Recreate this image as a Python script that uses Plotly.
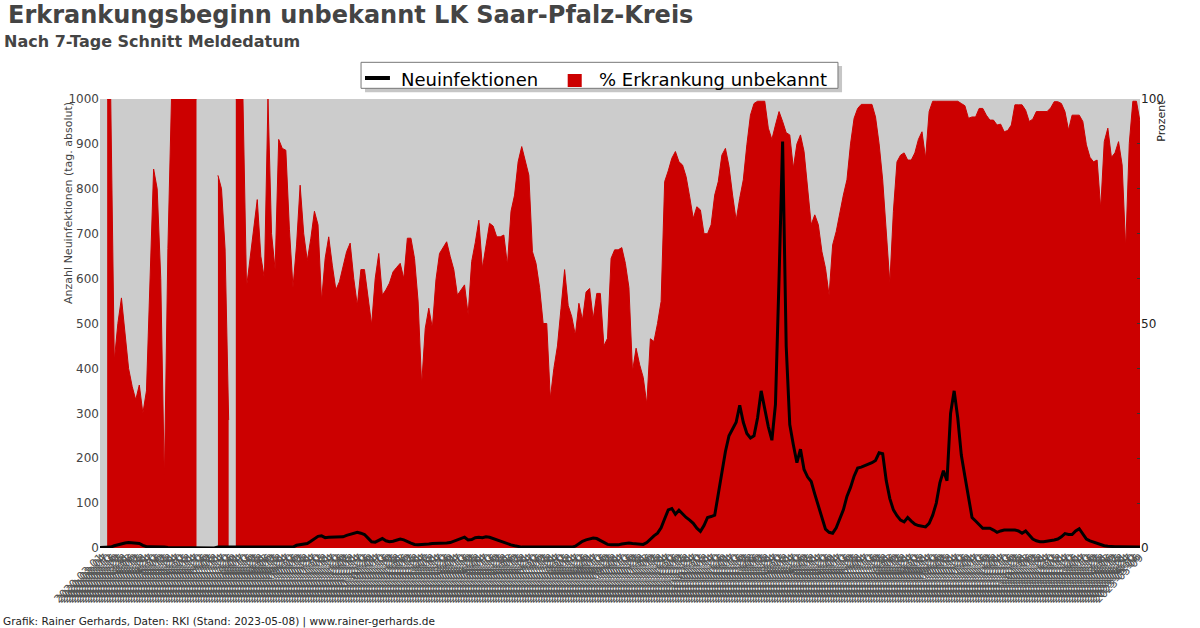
import pandas as pd
import plotly.graph_objects as go

# ---------------- data (4-day sampling) ----------------
START_DATE = "2020-03-01"
STEP = "4D"

# % Erkrankung unbekannt (right axis); None = no data
pct_unbekannt = [
    None, None, 100, 100, 41.7, 50, 55.7, 48, 40, 36,
    33, 36.3, 30, 35, 61.5, 84.4, 80, 60, 15, 66.7,
    100, 100, 100, 100, 100, 100, 100, 100, None, None,
    None, None, None, 83, 80, 66.6, 28.5, None, 100, 100,
    100, 58, 65, 70.8, 77.6, 65, 60, 100, 70, 62,
    91, 89, 88.6, 71, 58, 67.5, 80.8, 70, 64, 69,
    75, 72, 55, 64.5, 69.3, 63, 57.5, 59.3, 63, 66,
    67.9, 60, 54, 62, 62, 56.3, 49.7, 60, 65.6, 56.3,
    57.5, 59, 61.5, 62.5, 63.4, 60, 69, 69, 64.5, 55,
    36.3, 48.9, 53.4, 49, 59.7, 65.6, 67, 68.2, 64.9, 62,
    56.3, 57.5, 58.6, 52, 63.8, 68, 73, 62.3, 67.1, 72.3,
    71.7, 69.3, 69.3, 69.7, 63, 75, 78.6, 86, 89.4, 86,
    83, 66, 63.4, 58, 50, 50, 33.3, 40, 45, 53.4,
    62, 54, 51.5, 47.4, 54.5, 50.8, 57, 57.8, 51, 56.7,
    56.7, 45, 46.7, 64.5, 66.4, 66.4, 66.9, 63.4, 58, 39.3,
    44.5, 40.8, 38, 32, 46.6, 46, 50, 54.9, 81.6, 84,
    86.8, 88.3, 86, 85.3, 82.7, 78.2, 73.4, 76, 75.3, 70,
    70, 72, 78.6, 81.6, 87.5, 89, 85, 78.6, 73, 77.9,
    82, 89.8, 96.4, 99, 99.5, 99.5, 99.5, 93.5, 91, 94.2,
    97.2, 95, 92.5, 92, 84.6, 90, 92, 88.3, 80.1, 72,
    74.2, 72, 66, 62.3, 56.3, 67.5, 70.5, 74.9, 78.6, 82,
    90, 95.7, 97.9, 98.8, 98.8, 98.8, 98.8, 96, 90, 82,
    70, 59, 75, 86, 87.5, 88, 86.4, 86.4, 88, 91,
    92.7, 86.8, 97.2, 99.5, 99.5, 99.5, 99.5, 99.5, 99.5, 99.5,
    99.5, 99, 98.5, 95.7, 96, 96, 97.9, 97.9, 96.4, 95.3,
    95.3, 94.2, 94.4, 92.7, 93, 94.2, 98.7, 98.7, 98.7, 97.5,
    95, 95.5, 97.2, 97.2, 97.2, 97.2, 98, 99.4, 99.4, 99,
    97.2, 93.1, 96.4, 96.4, 96.4, 95, 89.8, 87, 86, 86.4,
    75.6, 90.5, 93.5, 87, 88, 90.5, 85.3, 66.7, 90.1, 99.5,
    99.5, 95,
]

# Neuinfektionen, 7-Tage Schnitt (left axis)
neuinfektionen = [
    1, 1, 1, 2, 5, 7, 10, 11, 12, 11,
    11, 10, 6, 3, 3, 3, 3, 3, 2, 1,
    1, 1, 1, 1, 1, 1, 1, 1, 0, 0,
    0, 0, 0, 2, 2, 2, 2, 2, 1, 1,
    1, 2, 2, 2, 2, 2, 2, 2, 2, 2,
    2, 2, 2, 2, 2, 6, 7, 9, 10, 15,
    20, 26, 27, 23, 24, 24, 24, 25, 25, 28,
    30, 33, 35, 33, 30, 22, 14, 13, 17, 21,
    16, 14, 15, 17, 20, 18, 14, 11, 8, 7,
    8, 8, 9, 10, 10, 10, 10, 11, 12, 15,
    17, 21, 24, 18, 19, 23, 24, 23, 25, 24,
    21, 18, 15, 12, 10, 7, 5, 3, 2, 2,
    2, 2, 2, 2, 2, 2, 2, 2, 2, 2,
    2, 2, 2, 4, 10, 15, 18, 20, 22, 21,
    17, 12, 8, 7, 7, 7, 9, 10, 11, 10,
    9, 9, 8, 12, 20, 27, 33, 45, 65, 85,
    88, 75, 84, 75, 68, 62, 55, 44, 37, 50,
    68, 70, 73, 120, 170, 215, 250, 265, 280, 318,
    280, 255, 245, 250, 290, 350, 310, 270, 240, 320,
    600, 905, 450, 275, 230, 190, 220, 175, 158, 148,
    120, 95, 70, 42, 35, 33, 45, 65, 85, 115,
    135, 160, 178, 180, 183, 187, 190, 195, 212, 210,
    150, 110, 85, 72, 62, 58, 68, 60, 53, 50,
    48, 47, 55, 73, 100, 145, 172, 150, 300, 350,
    290, 207, 160, 110, 68, 60, 52, 44, 44, 44,
    40, 35, 38, 40, 40, 40, 40, 38, 33, 38,
    30, 20, 16, 14, 14, 15, 16, 18, 20, 25,
    32, 30, 30, 38, 43, 30, 20, 16, 13, 10,
    7, 5, 4, 3, 3, 3, 3, 3, 2, 2,
    2, 2,
]

dates = pd.date_range(START_DATE, periods=len(pct_unbekannt), freq=STEP)

left_ticks = list(range(0, 1001, 100))
right_tickvals = list(range(0, 101, 10))
right_ticktext = ["0", "", "", "", "", "50", "", "", "", "", "100"]

NAME_LINE = "Neuinfektionen"
NAME_AREA = "% Erkrankung unbekannt"

RED = "#cc0000"
GREY_TXT = "#444444"
FONT = "DejaVu Sans"

fig = go.Figure()

# black line on overlay axis (drawn on top of the red area)
fig.add_trace(go.Scatter(
    x=dates, y=neuinfektionen, name=NAME_LINE, yaxis="y2",
    mode="lines", line=dict(color="black", width=3), showlegend=False,
))

# red area, split into contiguous runs so that missing days stay grey
segments, cur = [], []
for d, v in zip(dates, pct_unbekannt):
    if v is None:
        if cur:
            segments.append(cur)
        cur = []
    else:
        cur.append((d, v))
if cur:
    segments.append(cur)

for seg in segments:
    fig.add_trace(go.Scatter(
        x=[p[0] for p in seg], y=[p[1] for p in seg], yaxis="y",
        name=NAME_AREA, mode="lines",
        line=dict(color=RED, width=1), fill="tozeroy", fillcolor=RED,
        showlegend=False, hoverinfo="skip",
    ))

# legend box drawn as layout decoration (paper coordinates)
legend_shapes = [
    dict(type="rect", xref="paper", yref="paper", layer="above",
         x0=0.2548, x1=0.7135, y0=1.0150, y1=1.0735,
         fillcolor="#c6c6c6", line=dict(width=0)),
    dict(type="rect", xref="paper", yref="paper", layer="above",
         x0=0.2510, x1=0.7096, y0=1.0238, y1=1.0817,
         fillcolor="white", line=dict(color="#777777", width=1)),
    dict(type="line", xref="paper", yref="paper", layer="above",
         x0=0.2548, x1=0.2788, y0=1.0468, y1=1.0468,
         line=dict(color="black", width=4)),
    dict(type="rect", xref="paper", yref="paper", layer="above",
         x0=0.4497, x1=0.4632, y0=1.0267, y1=1.0557,
         fillcolor=RED, line=dict(width=0)),
]

fig.update_layout(
    width=1200, height=628,
    margin=dict(l=100, r=60, t=99, b=80, autoexpand=False),
    paper_bgcolor="white", plot_bgcolor="#cccccc",
    font=dict(family=FONT, color=GREY_TXT),
    showlegend=False,
    xaxis=dict(
        type="date", range=[dates[0], dates[-1]], automargin=False,
        tick0=START_DATE, dtick=3 * 86400000, tickformat="%Y-%m-%d",
        tickangle=-45, tickfont=dict(size=11, color="#555555"),
        showgrid=False, zeroline=False, showline=False, ticks="",
    ),
    yaxis=dict(
        side="right", range=[0, 100], tickvals=right_tickvals,
        ticktext=right_ticktext, ticks="inside", ticklen=3, automargin=False,
        tickcolor="#333333", showgrid=False, zeroline=False,
        tickfont=dict(size=12, color="#222222"),
    ),
    yaxis2=dict(
        overlaying="y", side="left", range=[0, 1000], tickvals=left_ticks,
        showgrid=False, zeroline=False, ticks="", automargin=False,
        tickfont=dict(size=12, color=GREY_TXT),
    ),
    shapes=legend_shapes,
    annotations=[
        dict(text="<b>Erkrankungsbeginn unbekannt LK Saar-Pfalz-Kreis</b>",
             xref="paper", yref="paper", x=-0.0904, y=1.187,
             xanchor="left", yanchor="middle", showarrow=False,
             font=dict(size=24, color=GREY_TXT, family=FONT)),
        dict(text="<b>Nach 7-Tage Schnitt Meldedatum</b>",
             xref="paper", yref="paper", x=-0.0942, y=1.127,
             xanchor="left", yanchor="middle", showarrow=False,
             font=dict(size=16, color=GREY_TXT, family=FONT)),
        dict(text=NAME_LINE,
             xref="paper", yref="paper", x=0.2875, y=1.0445,
             xanchor="left", yanchor="middle", showarrow=False,
             font=dict(size=18, color="black", family=FONT)),
        dict(text=NAME_AREA,
             xref="paper", yref="paper", x=0.4775, y=1.0445,
             xanchor="left", yanchor="middle", showarrow=False,
             font=dict(size=18, color="black", family=FONT)),
        dict(text="Anzahl Neuinfektionen (tag. absolut)",
             xref="paper", yref="paper", x=-0.0298, y=0.998,
             xanchor="center", yanchor="top", textangle=-90, showarrow=False,
             font=dict(size=11, color=GREY_TXT, family=FONT)),
        dict(text="Prozent",
             xref="paper", yref="paper", x=1.0212, y=1.003,
             xanchor="center", yanchor="top", textangle=-90, showarrow=False,
             font=dict(size=11, color="#222222", family=FONT)),
        dict(text="Grafik: Rainer Gerhards, Daten: RKI (Stand: 2023-05-08) | www.rainer-gerhards.de",
             xref="paper", yref="paper", x=-0.0952, y=-0.1626,
             xanchor="left", yanchor="middle", showarrow=False,
             font=dict(size=10.5, color="#222222", family=FONT)),
    ],
)

fig.write_html("out.html", config={"displayModeBar": False},
               post_script="document.body.style.margin='0px';")
